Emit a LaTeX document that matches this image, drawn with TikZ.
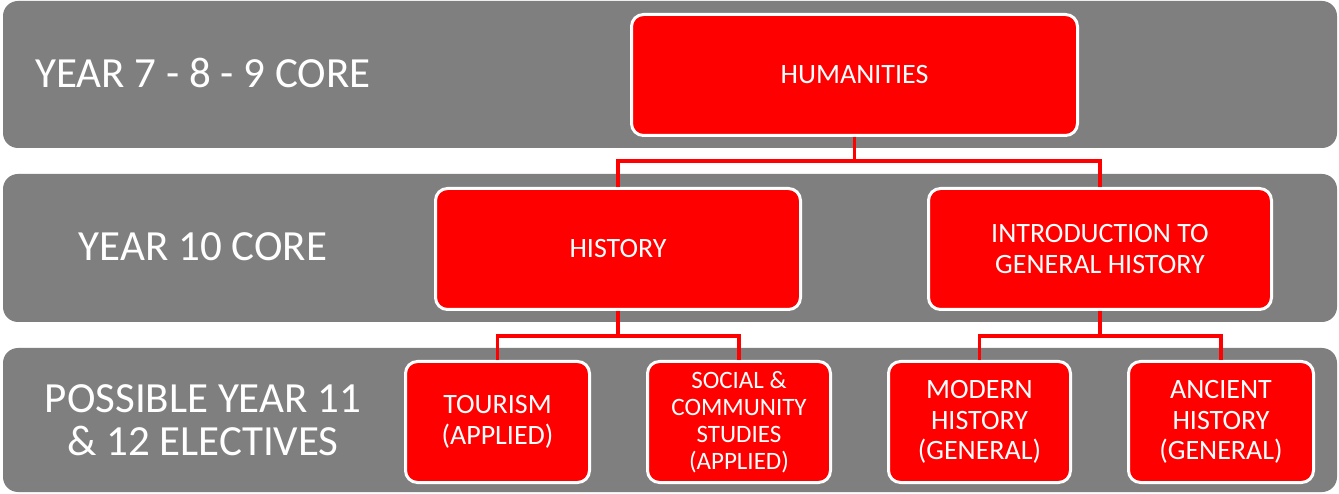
\documentclass[tikz,border=0pt]{standalone}
\usepackage{fontspec}
\setmainfont{Carlito}
\definecolor{bandgray}{RGB}{127,127,127}
\definecolor{boxred}{RGB}{255,0,0}

\begin{document}
\begin{tikzpicture}[x=1pt,y=-1pt,
  band/.style={fill=bandgray,rounded corners=15pt},
  bandlabel/.style={text=white,align=center,font=\fontsize{43}{43}\selectfont},
  unit/.style={rectangle,rounded corners=12pt,fill=boxred,draw=white,line width=3pt,
    text=white,align=center,minimum height=121pt,inner sep=0pt,
    font=\fontsize{28}{30.5}\selectfont},
  link/.style={draw=boxred,line width=3.5pt}]
\useasboundingbox[fill=white] (0,0) rectangle (1339,494);
% year bands
\fill[band] (3,1) rectangle (1337,148);
\fill[band] (3,174) rectangle (1337,322);
\fill[band] (3,348) rectangle (1337,492);
\node (y789) at (203,73) [bandlabel] {YEAR 7 - 8 - 9 CORE};
\node (y10) at (203,247) [bandlabel] {YEAR 10 CORE};
\node (y1112) at (203,420) [bandlabel] {POSSIBLE YEAR 11\\\& 12 ELECTIVES};
% subjects
\node (hum) at (854.5,75) [unit,minimum width=446pt] {HUMANITIES};
\node (hist) at (618,249) [unit,minimum width=365pt] {HISTORY};
\node (intro) at (1100,249) [unit,minimum width=343pt] {INTRODUCTION TO\\GENERAL HISTORY};
\node (tour) at (497.5,422) [unit,minimum width=184pt] {TOURISM\\(APPLIED)};
\node (soc) at (739,422) [unit,minimum width=183pt,font=\fontsize{25}{27}\selectfont] {SOCIAL \&\\COMMUNITY\\STUDIES\\(APPLIED)};
\node (mod) at (979.5,422) [unit,minimum width=182pt] {MODERN\\HISTORY\\(GENERAL)};
\node (anc) at (1221,422) [unit,minimum width=185pt] {ANCIENT\\HISTORY\\(GENERAL)};
% links
\path[link] (hum.south) -- ++(0,24) -| (hist.north);
\path[link] (hum.south) -- ++(0,24) -| (intro.north);
\path[link] (hist.south) -- ++(0,25) -| (tour.north);
\path[link] (hist.south) -- ++(0,25) -| (soc.north);
\path[link] (intro.south) -- ++(0,25) -| (mod.north);
\path[link] (intro.south) -- ++(0,25) -| (anc.north);
\end{tikzpicture}
\end{document}
